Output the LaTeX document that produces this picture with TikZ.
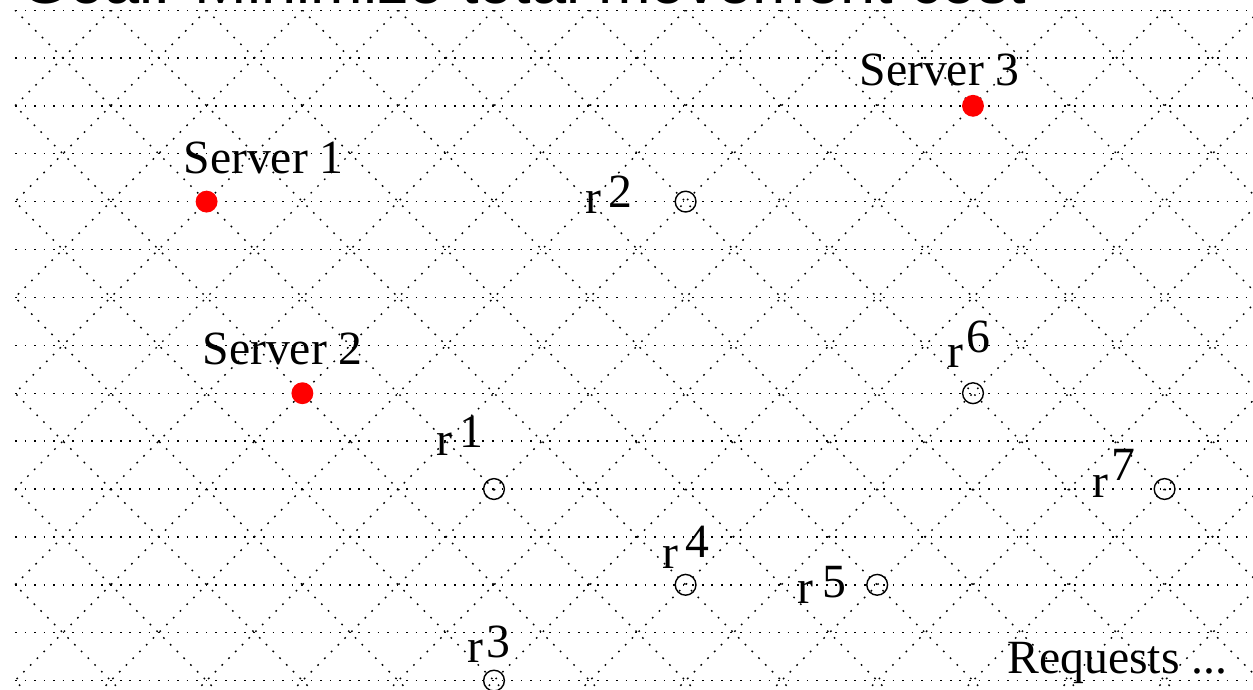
\documentclass[tikz,border=0pt]{standalone}
\usepackage{fontspec}
\setmainfont{Liberation Serif}
\newfontfamily\goalfont{Liberation Sans}
\begin{document}
\begin{tikzpicture}[x=0.6cm,y=0.6cm,
    gridline/.style={line width=0.5pt,dash pattern=on 0.6pt off 2.8pt},
    server/.style={circle,fill=red,inner sep=0pt,minimum size=7.8pt},
    request/.style={circle,draw,line width=0.5pt,inner sep=0pt,minimum size=7.4pt},
    lbl/.style={anchor=base west,inner sep=0pt,font=\fontsize{17}{20}\selectfont}]
  \useasboundingbox (-0.313,0.209) rectangle (25.846,-14.196);
  \clip (-0.313,0.209) rectangle (25.846,-14.196);
  % lattice
  \begin{scope}
    \clip (0,0) rectangle (26,-15);
    \foreach \r in {0,...,15}
      \draw[gridline] (0,-\r) -- (26,-\r);
    \foreach \k in {-16,-14,...,42} {
      \draw[gridline] (\k,0) -- ++(15,-15);
      \draw[gridline] (\k,0) -- ++(-15,-15);
    }
  \end{scope}
  \node[anchor=base west,inner sep=0pt,font=\goalfont\fontsize{22.5}{26}\selectfont] (goal) at (0.104,0.146) {Goal: Minimize total movement cost};
  % servers
  \node[server] (s1) at (4,-4) {};
  \node[server] (s2) at (6,-8) {};
  \node[server] (s3) at (20,-2) {};
  \node[lbl] (ls1) at (3.507,-3.403) {Server 1};
  \node[lbl] (ls2) at (3.904,-7.411) {Server 2};
  \node[lbl] (ls3) at (17.62,-1.566) {Server 3};
  % requests
  \node[request] (r1) at (10,-10) {};
  \node[request] (r2) at (14,-4) {};
  \node[request] (r3) at (10,-14) {};
  \node[request] (r4) at (14,-12) {};
  \node[request] (r5) at (18,-12) {};
  \node[request] (r6) at (20,-8) {};
  \node[request] (r7) at (24,-10) {};
  \node[lbl] (lr1) at (8.79,-9.29) {r\hspace{2.5pt}\raisebox{2.5pt}{1}};
  \node[lbl] (lr2) at (11.90,-4.238) {r\hspace{2.5pt}\raisebox{2.1pt}{2}};
  \node[lbl] (lr3) at (9.44,-13.63) {r\hspace{1pt}\raisebox{2.1pt}{3}};
  \node[lbl] (lr4) at (13.51,-11.65) {r\hspace{2.5pt}\raisebox{3.6pt}{4}};
  \node[lbl] (lr5) at (16.33,-12.38) {r\hspace{3pt}\raisebox{2.1pt}{5}};
  \node[lbl] (lr6) at (19.46,-7.47) {r\hspace{1pt}\raisebox{5.3pt}{6}};
  \node[lbl] (lr7) at (22.48,-10.17) {r\hspace{1pt}\raisebox{6pt}{7}};
  \node[lbl] (req) at (20.71,-13.86) {Requests ...};
\end{tikzpicture}
\end{document}
